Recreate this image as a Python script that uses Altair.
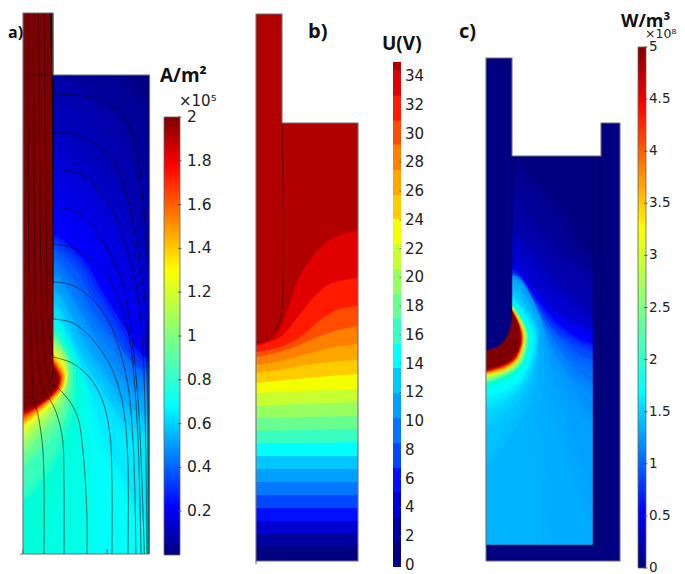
import altair as alt
import pandas as pd

# ---------- shared ----------
W, H = 669, 566
JET_POS = [0, 0.11, 0.34, 0.5, 0.65, 0.89, 1]
JET_COL = ["#00007f", "#0000ff", "#00ffff", "#80ff80", "#ffff00", "#ff0000", "#7f0000"]
FONT = "DejaVu Sans"
BOLD = "Open Sans"

# ---------- panel a: current density (x1e5 A/m2), iso-curves ----------
A_LEVELS = [0.05, 0.10, 0.14, 0.18, 0.22, 0.30, 0.38, 0.46, 0.55, 0.62, 0.70, 0.76, 0.80, 0.87,
            0.95, 1.05, 1.15, 1.25, 1.40, 1.55, 1.75, 1.90, 2.00]
A_SOFT = [24, 26, 24, 22, 18, 12, 10, 10, 10, 10, 9, 12, 10, 8,
          6, 4, 3, 3, 2, 2, 2, 2, 1.5]
A_X = [
    [53, 95, 125, 149.5, 149.5],
    [53, 90, 120, 140, 149.5, 149.5],
    [53, 90, 125, 149.5, 149.5],
    [53, 95, 130, 149.5, 149.5],
    [53, 75, 100, 120, 135, 149.5, 149.5],
    [53, 72, 92, 115, 135, 149.5, 149.5],
    [53, 68, 88, 110, 130, 149.5, 149.5],
    [53, 65, 83, 105, 125, 149.5, 149.5],
    [53, 63, 78, 100, 125, 149.5, 149.5],
    [53, 63, 78, 100, 125, 149.5, 149.5],
    [53, 62, 72, 85, 100, 120, 140, 149.5],
    [53, 60, 70, 78, 80, 82, 84],
    [53, 62, 72, 75, 66, 56, 44, 36],
    [53, 60, 68, 68, 60, 45, 23],
    [53, 60, 67, 66, 55, 40, 23],
    [53, 65, 66, 63, 50, 35, 23],
    [53, 64, 65, 61, 48, 33, 23],
    [53, 62, 65, 61, 46, 33, 23],
    [53, 60, 64, 60, 45, 32, 23],
    [53, 58, 63, 59, 44, 32, 23],
    [53, 57, 61, 57, 42, 31, 23],
    [53, 56, 59, 55, 41, 30, 23],
    [53, 56, 58, 52, 38, 23],
]
A_Y = [
    [76, 84, 112, 170, 554],
    [100, 125, 185, 250, 290, 554],
    [150, 190, 250, 310, 554],
    [180, 225, 295, 335, 554],
    [215, 235, 280, 310, 335, 352, 554],
    [248, 265, 298, 335, 365, 375, 554],
    [268, 288, 322, 350, 375, 392, 554],
    [285, 305, 337, 370, 392, 407, 554],
    [302, 322, 353, 385, 415, 427, 554],
    [315, 338, 370, 405, 435, 447, 554],
    [328, 347, 372, 405, 450, 490, 530, 554],
    [332, 347, 370, 395, 430, 480, 554],
    [335, 351, 375, 400, 440, 480, 520, 554],
    [337, 351, 372, 395, 430, 465, 492],
    [340, 352, 372, 395, 425, 443, 462],
    [342, 362, 372, 393, 418, 435, 450],
    [346, 362, 372, 390, 412, 428, 440],
    [352, 364, 375, 390, 408, 421, 431],
    [355, 364, 375, 390, 406, 417, 425],
    [358, 366, 376, 390, 405, 415, 422],
    [362, 368, 377, 390, 404, 412, 417],
    [365, 371, 378, 390, 403, 410, 413],
    [368, 372, 379, 392, 403, 410],
]
A_TIP_X = [53, 53, 52.5, 50, 43, 33, 23]
A_TIP_Y = [13, 362, 374, 382, 391, 397, 397.5]

# streamlines of panel a: inside the electrode
A_INNER_X = [[50, 53], [50.6, 53], [51.2, 53], [51.8, 53], [52.2, 53], [52.6, 53], [52.9, 53],
             [44, 47, 48, 52, 53], [38.5, 41, 42, 45, 50], [33.5, 35, 36, 39, 43], [28, 29, 30, 33]]
A_INNER_Y = [[13, 94], [13, 132], [13, 169], [13, 207], [13, 244], [13, 282], [13, 319],
             [13, 285, 320, 345, 357], [13, 285, 320, 360, 383], [13, 285, 320, 370, 391], [13, 285, 320, 397]]
# streamlines of panel a: in the liquid
A_OUTER_X = [
    [53, 90, 113, 128, 138, 143, 146, 147.5, 149],
    [53, 77, 100, 117, 132, 140, 145, 148],
    [53, 77, 97, 113, 128, 137, 143, 147],
    [53, 77, 93, 108, 122, 128, 138, 144.3],
    [53, 73, 90, 105, 115, 128, 137, 141],
    [53, 72, 90, 107, 117, 127, 133, 136],
    [53, 73, 93, 110, 120, 125, 128, 128],
    [53, 72, 90, 103, 110, 112, 112],
    [50, 63, 77, 83, 87, 87],
    [43, 53, 62, 64, 64],
    [33, 38, 43, 44],
]
A_OUTER_Y = [
    [94, 97, 107, 123, 157, 200, 233, 283, 554],
    [132, 135, 147, 167, 217, 267, 300, 554],
    [169, 173, 187, 210, 253, 290, 350, 554],
    [207, 212, 227, 250, 283, 310, 400, 554],
    [244, 248, 258, 272, 290, 330, 420, 554],
    [282, 285, 297, 318, 342, 380, 440, 554],
    [319, 323, 340, 365, 392, 420, 465, 554],
    [357, 363, 378, 402, 435, 485, 554],
    [383, 393, 415, 452, 518, 554],
    [391, 405, 435, 485, 554],
    [397, 415, 452, 554],
]
A_TICKS = [0.2, 0.4, 0.6, 0.8, 1.0, 1.2, 1.4, 1.6, 1.8, 2.0]
A_LABELS = ["0.2", "0.4", "0.6", "0.8", "1", "1.2", "1.4", "1.6", "1.8", "2"]

# ---------- panel b: potential bands ----------
B_COLORS = ["#e00000", "#ff1a00", "#ff4d00", "#ff7f00", "#ffa500", "#ffcc00", "#f4ff00", "#c8ff30",
            "#98ff60", "#68ff90", "#38ffc0", "#00ffff", "#00c8ff", "#00a0ff", "#0078ff", "#0048ff",
            "#0010ff", "#0000d4", "#00009e", "#000080"]
B_X = [
    [256, 273, 283, 290, 295, 305, 320, 340, 358],
    [256, 270, 283, 297, 313, 328, 340, 358],
    [256, 283, 303, 320, 337, 358],
    [256, 275, 295, 315, 335, 358],
    [256, 280, 307, 333, 358],
    [256, 280, 300, 330, 358],
    [256, 297, 330, 358],
    [256, 300, 358],
    [256, 300, 358],
    [256, 300, 358],
    [256, 300, 358],
    [256, 300, 358],
    [256, 358],
    [256, 358],
    [256, 358],
    [256, 358],
    [256, 358],
    [256, 358],
    [256, 358],
    [256, 358],
]
B_Y = [
    [344, 338, 322, 302, 287, 267, 248, 235, 231],
    [346, 342, 335, 318, 298, 285, 281, 278],
    [352, 346, 335, 320, 310, 306],
    [357, 353, 347, 338, 331, 326],
    [365, 361, 354, 347, 344],
    [373, 370, 366, 362, 360],
    [383, 379, 376, 374],
    [393, 391, 389],
    [406, 404, 402],
    [418, 417, 416],
    [431, 430, 429],
    [443, 443, 442],
    [456, 456],
    [469, 469],
    [482, 482],
    [495, 495],
    [508, 508],
    [521, 521],
    [534, 534],
    [547, 547],
]
B_TIP_X = [282, 282, 278, 268, 256]
B_TIP_Y = [123, 308, 325, 338, 343]
B_BAR_EDGES = [567, 542, 517, 492, 468, 443, 418, 393, 368, 344, 318, 294, 269, 244, 219, 195, 170, 145, 121, 96, 71, 62]
B_BAR_COLORS = ["#000080", "#0000a0", "#0000d8", "#0010ff", "#0048ff", "#0078ff", "#00a0ff", "#00c8ff",
                "#00ffff", "#38ffc0", "#68ff90", "#98ff60", "#c8ff30", "#f4ff00", "#ffcc00", "#ffa500",
                "#ff7f00", "#ff4d00", "#ff1a00", "#e00000", "#b00000"]
B_TICKS = [0, 2, 4, 6, 8, 10, 12, 14, 16, 18, 20, 22, 24, 26, 28, 30, 32, 34]

# ---------- panel c: power density (x1e8 W/m3) iso-curves ----------
C_LEVELS = [0.10, 0.20, 0.35, 0.55, 0.70, 0.85, 1.00, 1.10, 1.16, 1.20, 1.30, 1.41, 1.56, 1.70, 2.00, 2.50,
            3.00, 3.60, 4.20, 4.60, 5.00]
C_SOFT = [12, 16, 12, 9, 8, 9, 10, 12, 16, 16, 10, 7, 5, 4, 3, 2.5,
          2, 2, 1.5, 1.5, 1]
C_X = [
    [512, 540, 570, 593, 593],
    [512, 530, 560, 593, 593],
    [512, 525, 550, 575, 593, 593],
    [512, 530, 555, 575, 593, 593],
    [512, 530, 555, 575, 593, 593],
    [512, 530, 552, 575, 593, 593],
    [512, 530, 550, 570, 593, 593],
    [512, 528, 540, 553, 570, 593, 593],
    [512, 528, 535, 550, 570, 593],
    [512, 528, 528, 525, 530, 535],
    [512, 530, 528, 515, 500, 486],
    [512, 531, 527, 512, 497, 486],
    [512, 533, 527, 512, 498, 486],
    [512, 531, 525, 510, 497, 486],
    [512, 528, 524, 508, 486],
    [512, 526, 522, 507, 486],
    [512, 524, 520, 506, 486],
    [512, 523, 519, 505, 486],
    [512, 522, 517, 504, 486],
    [512, 521, 516, 502, 486],
    [512, 518, 520, 513, 500, 486],
]
C_Y = [
    [175, 200, 245, 275, 545],
    [215, 235, 270, 295, 545],
    [245, 260, 290, 312, 325, 545],
    [272, 295, 320, 332, 340, 545],
    [278, 303, 332, 346, 355, 545],
    [282, 310, 342, 362, 372, 545],
    [285, 318, 352, 378, 398, 545],
    [288, 322, 350, 375, 405, 440, 545],
    [292, 330, 372, 420, 480, 545],
    [295, 335, 375, 420, 470, 545],
    [295, 336, 372, 410, 435, 455],
    [298, 337, 370, 398, 412, 420],
    [301, 338, 368, 390, 400, 405],
    [303, 338, 366, 385, 392, 395],
    [305, 337, 360, 378, 386],
    [308, 337, 358, 373, 381],
    [309, 337, 355, 370, 377],
    [310, 337, 356, 369, 374],
    [311, 338, 356, 367, 372],
    [312, 338, 356, 366, 371],
    [313, 325, 340, 357, 365, 369],
]
C_TIP_X = [512, 512, 510, 500, 486]
C_TIP_Y = [58, 315, 328, 345, 351]
C_TICKS = [0, 0.5, 1, 1.5, 2, 2.5, 3, 3.5, 4, 4.5, 5]
C_LABELS = ["0", "0.5", "1", "1.5", "2", "2.5", "3", "3.5", "4", "4.5", "5"]

# ---------- plain blocks ----------
BLOCK_X = [53, 23, 256, 282, 486, 512, 601]
BLOCK_X2 = [149.5, 53, 282, 358, 512, 601, 620]
BLOCK_Y = [75, 13, 14, 123, 58, 156, 123]
BLOCK_Y2 = [554, 554, 561, 561, 561, 561, 561]
BLOCK_FILL = ["#000085", "#000085", "#b00000", "#b00000", "#000080", "#000080", "#000080"]

# white and blue blocks that trim the soft edges of the fields at the panel borders
TRIM_X = [8, 53, 149.5, 8, 593, 486, 620, 445, 486]
TRIM_X2 = [23, 210, 210, 210, 620, 620, 637, 486, 637]
TRIM_Y = [8, 8, 75, 554, 156, 545, 100, 100, 561]
TRIM_Y2 = [574, 75, 574, 574, 561, 561, 574, 574, 574]
TRIM_FILL = ["#ffffff", "#ffffff", "#ffffff", "#ffffff", "#000080", "#000080", "#ffffff", "#ffffff", "#ffffff"]

# ---------- outlines ----------
GREY_X = [
    [23, 23, 53, 53, 149.5, 149.5], [20, 149.5], [23, 23], [107, 107],
    [256, 256, 282, 282, 358, 358, 256], [256, 256],
    [486, 486, 512, 512, 601, 601, 620, 620, 486],
]
GREY_Y = [
    [554, 13, 13, 75, 75, 554], [554, 554], [549, 554], [549, 554],
    [561, 14, 14, 123, 123, 561, 561], [561, 564],
    [561, 58, 58, 156, 156, 123, 123, 561, 561],
]
THIN_X = [[23, 53], [512, 512], [593, 593], [601, 601], [486, 601]]
THIN_Y = [[75, 75], [315, 156], [156, 545], [156, 545], [545, 545]]

# ---------- text ----------
TEXT_BOLD = ["a)", "b)", "c)", "A/m²", "U(V)", "W/m³"]
TEXT_BOLD_X = [8, 308, 459, 160, 382, 621]
TEXT_BOLD_Y = [38, 38, 38, 82, 50, 27]
TEXT_BOLD_SIZE = [16, 20, 20, 19, 19, 18]

sx = alt.Scale(domain=[8, 8 + W], range=[0, W], nice=False, zero=False)
sy = alt.Scale(domain=[8, 8 + H], range=[0, H], nice=False, zero=False)
X = lambda f="x": alt.X(f"{f}:Q", scale=sx, axis=None)
Y = lambda f="y": alt.Y(f"{f}:Q", scale=sy, axis=None)


def jet_scale(lmax):
    return alt.Scale(domain=[p * lmax for p in JET_POS], range=JET_COL)


layers = []

# blocks
blocks = pd.DataFrame({"x": BLOCK_X, "x2": BLOCK_X2, "y": BLOCK_Y, "y2": BLOCK_Y2, "f": BLOCK_FILL})
layers.append(alt.Chart(blocks).mark_rect(strokeWidth=0).encode(
    x=X(), x2="x2:Q", y=Y(), y2="y2:Q", color=alt.Color("f:N", scale=None, legend=None)))


def field(levels, soft, xs, ys, base, lmax):
    for lv, sp, xv, yv in zip(levels, soft, xs, ys):
        df = pd.DataFrame({"x": xv, "y": yv, "x0": base, "level": lv})
        for frac in (1.0, 0.67, 0.33):
            layers.append(alt.Chart(df).mark_area(
                orient="horizontal", interpolate="monotone", fillOpacity=0,
                strokeWidth=2 * sp * frac, strokeOpacity=0.4, strokeJoin="round").encode(
                x=X(), x2="x0:Q", y=Y(),
                stroke=alt.Stroke("level:Q", scale=jet_scale(lmax), legend=None)))
        layers.append(alt.Chart(df).mark_area(orient="horizontal", interpolate="monotone").encode(
            x=X(), x2="x0:Q", y=Y(),
            color=alt.Color("level:Q", scale=jet_scale(lmax), legend=None)))


def tip(xv, yv, base, col):
    df = pd.DataFrame({"x": xv, "y": yv, "x0": base})
    layers.append(alt.Chart(df).mark_area(orient="horizontal", interpolate="monotone", color=col).encode(
        x=X(), x2="x0:Q", y=Y()))


# fields
field(A_LEVELS, A_SOFT, A_X, A_Y, 23, 2)
field(C_LEVELS, C_SOFT, C_X, C_Y, 486, 5)

# trims
trim = pd.DataFrame({"x": TRIM_X, "x2": TRIM_X2, "y": TRIM_Y, "y2": TRIM_Y2, "f": TRIM_FILL})
layers.append(alt.Chart(trim).mark_rect(strokeWidth=0).encode(
    x=X(), x2="x2:Q", y=Y(), y2="y2:Q", color=alt.Color("f:N", scale=None, legend=None)))

tip(A_TIP_X, A_TIP_Y, 23, "#7f0000")
tip(C_TIP_X, C_TIP_Y, 486, "#000080")

# panel b bands
for col, xv, yv in zip(B_COLORS, B_X, B_Y):
    df = pd.DataFrame({"x": xv, "y": yv, "y0": 561})
    layers.append(alt.Chart(df).mark_area(interpolate="monotone", color=col).encode(
        x=X(), y=Y(), y2="y0:Q"))


def polylines(xs, ys):
    rows = []
    for k, (xv, yv) in enumerate(zip(xs, ys)):
        for i, (a, b) in enumerate(zip(xv, yv)):
            rows.append({"id": k, "i": i, "x": a, "y": b})
    return pd.DataFrame(rows)


# streamlines
for xs, ys, op in ((A_INNER_X, A_INNER_Y, 0.55), (A_OUTER_X, A_OUTER_Y, 0.7)):
    layers.append(alt.Chart(polylines(xs, ys)).mark_line(
        color="#000000", strokeWidth=0.8, opacity=op, interpolate="catmull-rom")
        .encode(x=X(), y=Y(), detail="id:N", order="i:Q"))
# electrode edge lines
edges = polylines([A_TIP_X, B_TIP_X], [A_TIP_Y, B_TIP_Y])
layers.append(alt.Chart(edges).mark_line(color="#000000", strokeWidth=0.8, opacity=0.6, interpolate="catmull-rom")
              .encode(x=X(), y=Y(), detail="id:N", order="i:Q"))
# thin inner lines
thin = polylines(THIN_X, THIN_Y)
layers.append(alt.Chart(thin).mark_line(color="#000000", strokeWidth=0.7, opacity=0.55)
              .encode(x=X(), y=Y(), detail="id:N", order="i:Q"))
# outlines
grey = polylines(GREY_X, GREY_Y)
layers.append(alt.Chart(grey).mark_line(color="#6f6f78", strokeWidth=1.1)
              .encode(x=X(), y=Y(), detail="id:N", order="i:Q"))


def gradient():
    return alt.Gradient(gradient="linear", x1=0, x2=0, y1=1, y2=0,
                        stops=[alt.GradientStop(offset=p, color=c) for p, c in zip(JET_POS, JET_COL)])


def colorbar(x0, x1, vmin, vmax, ymin, ymax, ticks, labels, lx, size):
    vs = alt.Scale(domain=[vmin, vmax], range=[ymin - 8, ymax - 8], nice=False, zero=False)
    bar = pd.DataFrame({"x": [x0], "x2": [x1], "v": [vmin], "v2": [vmax]})
    layers.append(alt.Chart(bar).mark_rect(color=gradient(), stroke="#666666", strokeWidth=0.8).encode(
        x=X(), x2="x2:Q", y=alt.Y("v:Q", scale=vs, axis=None), y2="v2:Q"))
    t = pd.DataFrame({"v": ticks, "lab": labels, "x": x1 - 2, "x2": x1 + 1.5, "lx": lx})
    layers.append(alt.Chart(t).mark_rule(color="#444444", strokeWidth=0.8).encode(
        x=X(), x2="x2:Q", y=alt.Y("v:Q", scale=vs, axis=None)))
    layers.append(alt.Chart(t).mark_text(align="left", baseline="middle", font=FONT, fontSize=size, color="#222222")
                  .encode(x=X("lx"), y=alt.Y("v:Q", scale=vs, axis=None), text="lab:N"))


colorbar(164, 180, 0, 2, 555, 117, A_TICKS, A_LABELS, 187, 15.5)
colorbar(638, 646, 0, 5, 568, 47, C_TICKS, C_LABELS, 649, 13.5)

# stepped colour bar of panel b
bvs = alt.Scale(domain=[0, 34], range=[565 - 8, 76 - 8], nice=False, zero=False)
bb = pd.DataFrame({"e0": [(565 - e) / 14.38 for e in B_BAR_EDGES[:-1]],
                   "e1": [(565 - e) / 14.38 for e in B_BAR_EDGES[1:]],
                   "f": B_BAR_COLORS, "x": 393, "x2": 401})
layers.append(alt.Chart(bb).mark_rect(strokeWidth=0).encode(
    x=X(), x2="x2:Q", y=alt.Y("e0:Q", scale=bvs, axis=None), y2="e1:Q",
    color=alt.Color("f:N", scale=None, legend=None)))
bt = pd.DataFrame({"v": B_TICKS, "lab": [str(v) for v in B_TICKS], "x": 399.5, "x2": 401, "lx": 405})
layers.append(alt.Chart(bt).mark_rule(color="#555555", strokeWidth=0.8).encode(
    x=X(), x2="x2:Q", y=alt.Y("v:Q", scale=bvs, axis=None)))
layers.append(alt.Chart(bt).mark_text(align="left", baseline="middle", font=FONT, fontSize=15, color="#222222")
              .encode(x=X("lx"), y=alt.Y("v:Q", scale=bvs, axis=None), text="lab:N"))

# text
tb = pd.DataFrame({"t": TEXT_BOLD, "x": TEXT_BOLD_X, "y": TEXT_BOLD_Y, "s": TEXT_BOLD_SIZE})
layers.append(alt.Chart(tb).mark_text(align="left", baseline="alphabetic", font=BOLD, fontWeight="bold", color="#111111")
              .encode(x=X(), y=Y(), text="t:N", size=alt.Size("s:Q", scale=None, legend=None)))
exp = pd.DataFrame({"t": ["×10⁵", "×10⁸"], "x": [179, 645], "y": [106, 38], "s": [15, 12.5]})
layers.append(alt.Chart(exp).mark_text(align="left", baseline="alphabetic", font=FONT, color="#222222")
              .encode(x=X(), y=Y(), text="t:N", size=alt.Size("s:Q", scale=None, legend=None)))

chart = (alt.layer(*layers)
         .resolve_scale(x="independent", y="independent", color="independent", size="independent", stroke="independent")
         .properties(width=W, height=H, padding=0, autosize="none", background="white")
         .configure_view(stroke=None))

chart.save("out.html", embed_options={"renderer": "svg", "actions": False})
